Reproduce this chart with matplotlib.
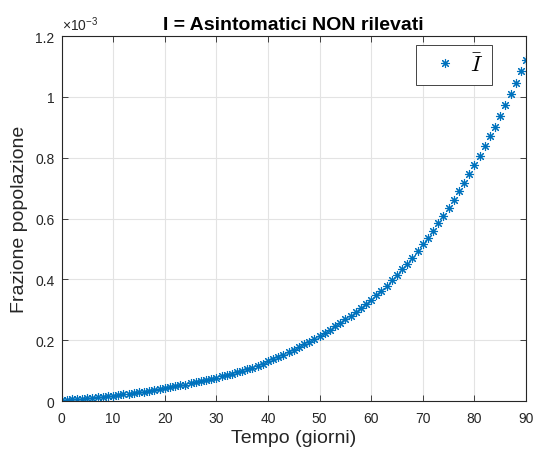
import numpy as np
import matplotlib
matplotlib.use('Agg')
import matplotlib.pyplot as plt
from matplotlib.ticker import FormatStrFormatter

plt.rcParams['font.family'] = ['Liberation Sans', 'DejaVu Sans']
plt.rcParams['mathtext.fontset'] = 'cm'

# giorni 0..90
giorni = list(range(91))
# frazione di popolazione, in unita' di 1e-3
frazione_e3 = [
    0.003, 0.004, 0.005, 0.007, 0.008, 0.009, 0.011, 0.012, 0.014, 0.016,
    0.018, 0.020, 0.022, 0.024, 0.026, 0.028, 0.031, 0.033, 0.036, 0.039,
    0.042, 0.045, 0.048, 0.051, 0.054, 0.058, 0.061, 0.065, 0.069, 0.073,
    0.077, 0.081, 0.086, 0.090, 0.095, 0.100, 0.105, 0.110, 0.116, 0.123,
    0.130, 0.137, 0.144, 0.152, 0.160, 0.168, 0.177, 0.186, 0.195, 0.205,
    0.215, 0.225, 0.235, 0.245, 0.256, 0.268, 0.280, 0.292, 0.305, 0.318,
    0.332, 0.347, 0.363, 0.379, 0.397, 0.414, 0.433, 0.451, 0.471, 0.493,
    0.515, 0.537, 0.560, 0.584, 0.608, 0.633, 0.661, 0.689, 0.716, 0.745,
    0.776, 0.807, 0.838, 0.870, 0.902, 0.937, 0.972, 1.010, 1.047, 1.084,
    1.120,
]
xticks = list(range(0, 91, 10))
yticks = [0, 0.2, 0.4, 0.6, 0.8, 1.0, 1.2]

fig = plt.figure(figsize=(5.34, 4.52), dpi=100)
ax = fig.add_axes([0.1152, 0.1106, 0.8698, 0.8075])

blu = '#0072BD'
ax.plot(giorni, frazione_e3, linestyle='none', marker=(8, 2, 0), markersize=6.5,
        markeredgewidth=0.8, color=blu, label=r'$\bar{I}$')

ax.set_xlim(0, 90)
ax.set_ylim(0, 1.2)
ax.set_xticks(xticks)
ax.set_yticks(yticks)
ax.yaxis.set_major_formatter(FormatStrFormatter('%g'))
ax.grid(True, color='#e3e3e3', linewidth=0.8)
ax.set_axisbelow(True)
for s in ax.spines.values():
    s.set_color('#262626')
    s.set_linewidth(0.8)
ax.tick_params(direction='in', top=True, right=True, length=4, width=0.6,
               colors='#262626', labelsize=10, pad=5)
ax.tick_params(axis='x', pad=7)

ax.set_title('I = Asintomatici NON rilevati', fontsize=14, fontweight='bold', pad=5)
ax.set_xlabel('Tempo (giorni)', fontsize=14, color='#262626', labelpad=3)
ax.set_ylabel('Frazione popolazione', fontsize=14, color='#262626', labelpad=5)
ax.text(0.0, 1.008, r'$\mathregular{\times10^{-3}}$', transform=ax.transAxes,
        fontsize=10, color='#262626', ha='left', va='bottom')

leg = ax.legend(loc='upper right', bbox_to_anchor=(0.927, 0.976), borderaxespad=0,
                fancybox=False, framealpha=1, edgecolor='#262626', fontsize=16,
                handlelength=1.8, borderpad=0.4, handletextpad=0.25)
leg.get_frame().set_linewidth(0.6)

fig.savefig('out.png', dpi=100)
